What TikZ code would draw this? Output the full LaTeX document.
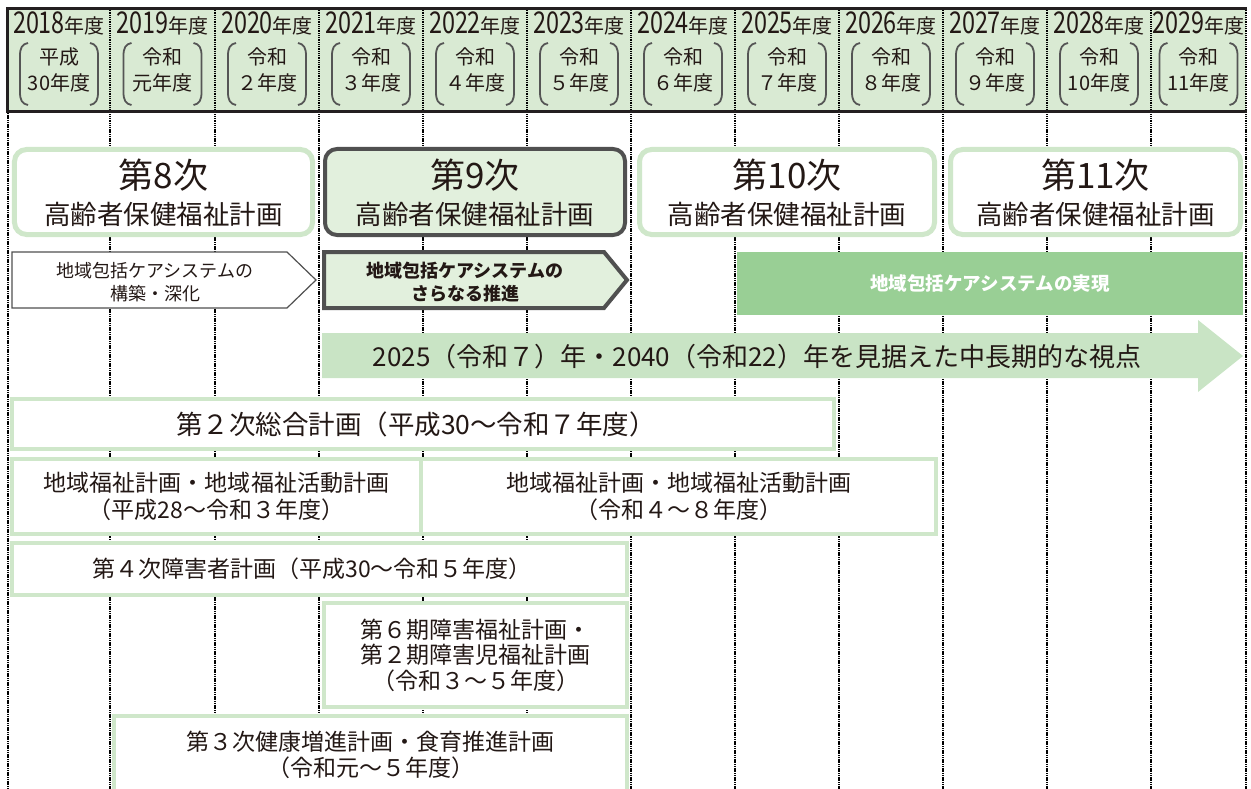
\documentclass[tikz,border=0pt]{standalone}
\usepackage{fontspec}
\setmainfont{Noto Sans CJK JP}
\newfontfamily\yearfont{Noto Sans CJK JP}[FakeStretch=0.78]
\newcommand\fs[1]{\fontsize{#1bp}{#1bp}\selectfont}
\definecolor{hdr}{RGB}{217,234,211}
\definecolor{hdrline}{RGB}{35,31,32}
\definecolor{txt}{RGB}{35,24,21}
\definecolor{lgb}{RGB}{207,231,202}
\definecolor{pnine}{RGB}{226,240,221}
\definecolor{dkb}{RGB}{80,80,80}
\definecolor{grect}{RGB}{153,207,149}
\definecolor{barrow}{RGB}{201,228,197}
\definecolor{brkc}{RGB}{85,85,85}
\tikzset{
  vdot/.style={line width=2bp, dash pattern=on 1.1bp off 0.7bp, black},
  brk/.style={line width=1.8bp, brkc},
  planbox/.style={draw=lgb, line width=5bp, rounded corners=12bp, fill=white},
  plannine/.style={draw=dkb, line width=4bp, rounded corners=12bp, fill=pnine},
  lbox/.style={draw=lgb, line width=4bp, fill=white},
  tline/.style={anchor=base, text=txt},
}
\begin{document}
\begin{tikzpicture}[x=1bp,y=-1bp, every node/.style={inner sep=0pt, outer sep=0pt}]
\useasboundingbox (0,0) rectangle (1251,789);
\clip (0,0) rectangle (1251,789);
% header background
\fill[hdr] (7.5,8) rectangle (1246,111);
% dotted column lines
\foreach \x in {110,215,319,423,527,631,735,839,943,1047,1151,1246}
  \draw[vdot] (\x,8) -- (\x,789);
\draw[vdot] (7.5,111) -- (7.5,789);
% header border
\draw[hdrline, line width=3bp] (1247,8.5) -- (7.5,8.5) -- (7.5,111) -- (1247,111);
% header texts
\foreach \cx/\yr/\la/\lb in {59/2018/平成/30年度, 162.5/2019/令和/元年度, 267/2020/令和/２年度, 371/2021/令和/３年度, 475/2022/令和/４年度, 579/2023/令和/５年度, 683/2024/令和/６年度, 787/2025/令和/７年度, 891/2026/令和/８年度, 995/2027/令和/９年度, 1099/2028/令和/10年度, 1198.5/2029/令和/11年度}{
  \node[tline] (yr\yr) at (\cx,33.5) {{\yearfont\fs{30}\yr}{\fs{20}年度}};
  \node[tline, font=\fs{20}] (la\yr) at (\cx,64.5) {\la};
  \node[tline, font=\fs{20}] (lb\yr) at (\cx,90.5) {\lb};
  \draw[brk] ({\cx-31},43) .. controls ({\cx-37},44) and ({\cx-39},48) .. ({\cx-39},56) -- ({\cx-39},92) .. controls ({\cx-39},100) and ({\cx-37},104) .. ({\cx-31},105);
  \draw[brk] ({\cx+31},43) .. controls ({\cx+37},44) and ({\cx+39},48) .. ({\cx+39},56) -- ({\cx+39},92) .. controls ({\cx+39},100) and ({\cx+37},104) .. ({\cx+31},105);
}
% plan boxes
\node[planbox, minimum width=298bp, minimum height=85bp] (p8) at (163.5,192) {};
\node[plannine, minimum width=300bp, minimum height=86bp] (p9) at (475,192) {};
\node[planbox, minimum width=295bp, minimum height=85bp] (p10) at (787,192) {};
\node[planbox, minimum width=290bp, minimum height=85bp] (p11) at (1095.5,192) {};
\node[tline, font=\fs{35}] (p8a) at (163.5,188) {第8次};
\node[tline, font=\fs{26.5}] (p8b) at (163.5,224) {高齢者保健福祉計画};
\node[tline, font=\fs{35}] (p9a) at (475,188) {第9次};
\node[tline, font=\fs{26.5}] (p9b) at (475,224) {高齢者保健福祉計画};
\node[tline, font=\fs{35}] (p10a) at (787,188) {第10次};
\node[tline, font=\fs{26.5}] (p10b) at (787,224) {高齢者保健福祉計画};
\node[tline, font=\fs{35}] (p11a) at (1095.5,188) {第11次};
\node[tline, font=\fs{26.5}] (p11b) at (1095.5,224) {高齢者保健福祉計画};
% chevron arrows
\draw[fill=white, draw=dkb, line width=1.2bp] (12,252) -- (287,252) -- (316,280) -- (287,308) -- (12,308) -- cycle;
\node[tline, font=\fs{18}] (c1a) at (155,277) {地域包括ケアシステムの};
\node[tline, font=\fs{18}] (c1b) at (155,300) {構築・深化};
\draw[fill=pnine, draw=dkb, line width=4bp, line join=miter] (324,252) -- (604,252) -- (627,280) -- (604,308) -- (324,308) -- cycle;
\node[tline, font=\fs{18}\bfseries] (c2a) at (465,277) {地域包括ケアシステムの};
\node[tline, font=\fs{18}\bfseries] (c2b) at (465,300) {さらなる推進};
% green rect
\node[fill=grect, minimum width=506bp, minimum height=63bp] (gr) at (990,283.5) {};
\node[anchor=base, font=\fs{18.5}\bfseries, text=white] (grt) at (990,290) {地域包括ケアシステムの実現};
% big arrow
\fill[barrow] (322,333) -- (1198,333) -- (1198,320) -- (1243,356) -- (1198,392) -- (1198,378) -- (322,378) -- cycle;
\node[tline, font=\fs{26}] (bat) at (757,366) {2025（令和７）年・2040（令和22）年を見据えた中長期的な視点};
% lower boxes
\node[lbox, minimum width=822bp, minimum height=50bp] (ga) at (423,424) {};
\node[tline, font=\fs{26.5}] (gat) at (416,434) {第２次総合計画（平成30～令和７年度）};
\node[lbox, minimum width=409bp, minimum height=75bp] (gb) at (216.5,496.5) {};
\node[lbox, minimum width=515bp, minimum height=75bp] (gc) at (678.5,496.5) {};
\node[tline, font=\fs{23}] (gba) at (216.5,491.5) {地域福祉計画・地域福祉活動計画};
\node[tline, font=\fs{23}] (gbb) at (216.5,518.5) {（平成28～令和３年度）};
\node[tline, font=\fs{23}] (gca) at (678.5,491.5) {地域福祉計画・地域福祉活動計画};
\node[tline, font=\fs{23}] (gcb) at (678.5,518.5) {（令和４～８年度）};
\node[lbox, minimum width=615bp, minimum height=52bp] (gd) at (319.5,569) {};
\node[tline, font=\fs{23}] (gdt) at (312,577.5) {第４次障害者計画（平成30～令和５年度）};
\node[lbox, minimum width=303bp, minimum height=104bp] (ge) at (475.5,655) {};
\node[tline, font=\fs{23}] (gea) at (475.5,638.5) {第６期障害福祉計画・};
\node[tline, font=\fs{23}] (geb) at (475.5,663.5) {第２期障害児福祉計画};
\node[tline, font=\fs{23}] (gec) at (475.5,689.5) {（令和３～５年度）};
\node[lbox, minimum width=513bp, minimum height=104bp] (gf) at (370.5,768) {};
\node[tline, font=\fs{23}] (gfa) at (370.5,750.5) {第３次健康増進計画・食育推進計画};
\node[tline, font=\fs{23}] (gfb) at (370.5,776.5) {（令和元～５年度）};
\end{tikzpicture}
\end{document}
